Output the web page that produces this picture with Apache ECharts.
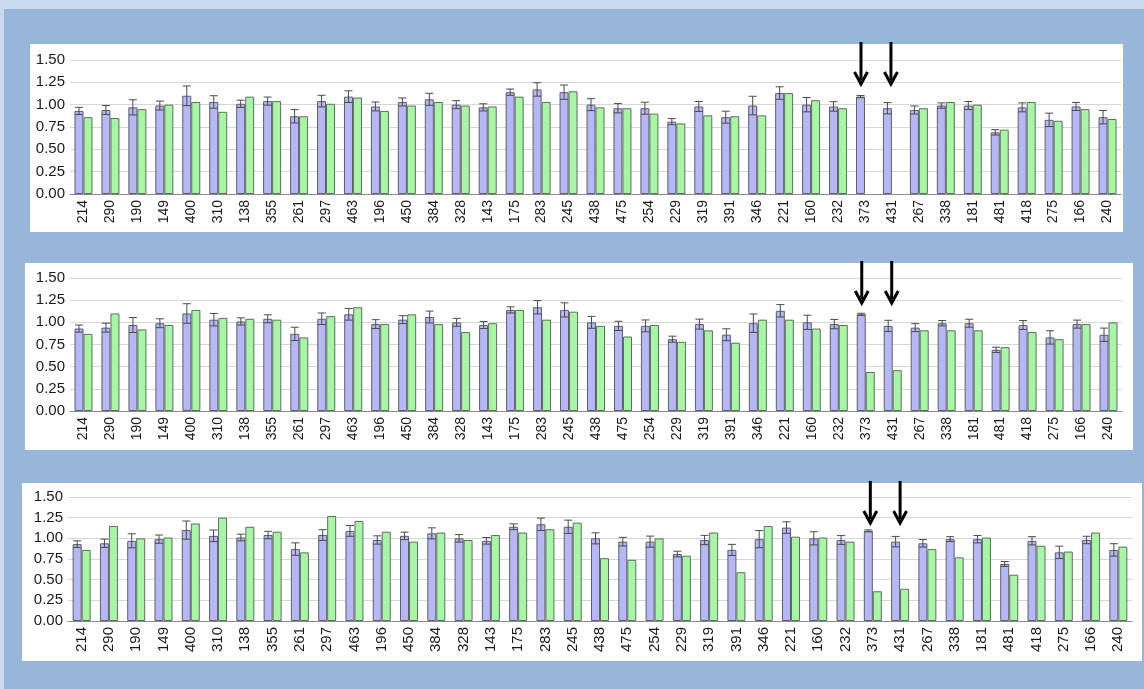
<!DOCTYPE html>
<html>
<head>
<meta charset="utf-8">
<script src="https://cdn.jsdelivr.net/npm/echarts@6/dist/echarts.min.js"></script>
<style>
  html, body { margin: 0; padding: 0; width: 1144px; height: 689px; overflow: hidden; }
  body { background: #98b6da; position: relative; font-family: "Liberation Sans", Arial, sans-serif; }
  .strip-top { position: absolute; left: 0; top: 0; width: 1144px; height: 9px; background: #c9d9ef; }
  .strip-left { position: absolute; left: 0; top: 0; width: 4px; height: 689px; background: #c9d9ef; }
  .panel { position: absolute; background: #ffffff; }
  #chart { position: absolute; left: 0; top: 0; width: 1144px; height: 689px; }
</style>
</head>
<body>
<div class="strip-top"></div>
<div class="strip-left"></div>
<div class="panel" style="left:30px;top:44px;width:1093px;height:188px;"></div>
<div class="panel" style="left:25px;top:263px;width:1108px;height:187px;"></div>
<div class="panel" style="left:22px;top:483px;width:1120px;height:178px;"></div>
<div id="chart"></div>
<script>
// ---- data ----
const categories = ['214','290','190','149','400','310','138','355','261','297','463','196','450','384','328','143','175','283','245','438','475','254','229','319','391','346','221','160','232','373','431','267','338','181','481','418','275','166','240'];

const blueValues = [0.93,0.94,0.97,0.99,1.10,1.03,1.01,1.04,0.87,1.04,1.09,0.98,1.03,
  1.06,1.00,0.97,1.14,1.17,1.14,1.00,0.96,0.96,0.81,0.98,0.86,0.99,1.13,
  1.00,0.98,1.09,0.96,0.94,0.99,0.99,0.69,0.97,0.83,0.98,0.86];

const blueErrors = [0.04,0.05,0.085,0.05,0.11,0.07,0.04,0.045,0.075,0.065,0.065,0.05,0.045,
  0.067,0.045,0.04,0.035,0.075,0.08,0.067,0.052,0.067,0.034,0.056,0.067,0.104,0.07,
  0.08,0.053,0.012,0.063,0.045,0.03,0.045,0.03,0.05,0.075,0.045,0.075];

const greenPanel1 = [0.86,0.85,0.95,1.00,1.03,0.92,1.09,1.04,0.87,1.01,1.08,0.93,0.99,
  1.03,0.99,0.98,1.09,1.03,1.15,0.97,0.96,0.90,0.79,0.88,0.87,0.88,1.13,
  1.05,0.96,null,null,0.96,1.03,1.00,0.72,1.03,0.82,0.95,0.84];

const greenPanel2 = [0.87,1.10,0.92,0.97,1.14,1.05,1.04,1.03,0.83,1.07,1.17,0.98,1.09,
  0.98,0.89,0.99,1.14,1.03,1.12,0.96,0.84,0.97,0.78,0.91,0.77,1.03,1.03,
  0.93,0.97,0.44,0.46,0.91,0.91,0.91,0.72,0.89,0.81,0.98,1.00];

const greenPanel3 = [0.86,1.15,1.00,1.01,1.18,1.25,1.14,1.08,0.83,1.27,1.21,1.08,0.96,
  1.07,0.98,1.04,1.07,1.11,1.19,0.76,0.74,1.00,0.79,1.07,0.59,1.15,1.02,
  1.01,0.96,0.36,0.39,0.87,0.77,1.01,0.56,0.91,0.84,1.07,0.90];

const yTicks = [0, 0.25, 0.5, 0.75, 1.0, 1.25, 1.5];
const arrowCategories = ['373', '431'];

// ---- layout (styles only) ----
const grids = [
  { left: 70, top: 60, width: 1051, height: 134, panelTop: 44, xFont: 14, yFont: 15, arrowShift: [-4, -1] },
  { left: 70, top: 278, width: 1052, height: 133, panelTop: 263, xFont: 14, yFont: 15, arrowShift: [-4, -1] },
  { left: 68, top: 497, width: 1064, height: 124, panelTop: 483, xFont: 15, yFont: 15, arrowShift: [-2.5, 0] }
];
const greens = [greenPanel1, greenPanel2, greenPanel3];
const BAR_W = 9;

const chart = echarts.init(document.getElementById('chart'), null, { renderer: 'canvas' });

const option = {
  backgroundColor: 'transparent',
  animation: false,
  grid: grids.map(g => ({ left: g.left, top: g.top, width: g.width, height: g.height, containLabel: false })),
  xAxis: grids.map((g, i) => ({
    type: 'category', gridIndex: i, data: categories,
    axisLine: { show: true, lineStyle: { color: '#8a8a8a', width: 1 } },
    axisTick: { show: false },
    axisLabel: { rotate: 90, fontSize: g.xFont, color: '#1a1a1a', margin: 6, interval: 0,
      fontFamily: '"Liberation Sans", Arial, sans-serif' }
  })),
  yAxis: grids.map((g, i) => ({
    type: 'value', gridIndex: i, min: 0, max: 1.5, interval: 0.25,
    axisLine: { show: false }, axisTick: { show: false },
    splitLine: { lineStyle: { color: '#d6d6d6', width: 1 } },
    axisLabel: { fontSize: g.yFont, color: '#1a1a1a', margin: 5,
      fontFamily: '"Liberation Sans", Arial, sans-serif',
      formatter: v => (yTicks.indexOf(v) >= 0 ? v.toFixed(2) : '') }
  })),
  series: []
};

grids.forEach((g, i) => {
  option.series.push({
    type: 'bar', xAxisIndex: i, yAxisIndex: i, data: blueValues,
    barWidth: BAR_W, barGap: '0%',
    itemStyle: { color: '#b5b8f2', borderColor: '#5e5e6e', borderWidth: 1 }
  });
  option.series.push({
    type: 'bar', xAxisIndex: i, yAxisIndex: i, data: greens[i],
    barWidth: BAR_W, barGap: '0%',
    itemStyle: { color: '#a9f5a7', borderColor: '#5e6e5e', borderWidth: 1 }
  });
  option.series.push({
    type: 'custom', xAxisIndex: i, yAxisIndex: i, z: 5,
    data: blueValues.map((v, k) => [k, v - blueErrors[k], v + blueErrors[k]]),
    renderItem: function (params, api) {
      const x = api.coord([api.value(0), 0])[0] - BAR_W / 2;
      const lo = api.coord([api.value(0), api.value(1)])[1];
      const hi = api.coord([api.value(0), api.value(2)])[1];
      const cw = 4;
      const style = { stroke: '#4a4a4a', lineWidth: 1 };
      return {
        type: 'group',
        children: [
          { type: 'line', shape: { x1: x, y1: lo, x2: x, y2: hi }, style },
          { type: 'line', shape: { x1: x - cw, y1: hi, x2: x + cw, y2: hi }, style },
          { type: 'line', shape: { x1: x - cw, y1: lo, x2: x + cw, y2: lo }, style }
        ]
      };
    }
  });
});

chart.setOption(option);

// arrows pointing at the blue bars of the flagged categories
const graphics = [];
grids.forEach((g, i) => {
  arrowCategories.forEach((cat, j) => {
    const px = chart.convertToPixel({ xAxisIndex: i }, cat) + g.arrowShift[j];
    const y0 = g.panelTop - 2;
    const tip = g.panelTop + 40;
    graphics.push({
      type: 'line', silent: true, z: 20,
      shape: { x1: px, y1: y0, x2: px, y2: tip - 4 },
      style: { stroke: '#000', lineWidth: 3 }
    });
    graphics.push({
      type: 'polyline', silent: true, z: 20,
      shape: { points: [[px - 6.5, tip - 12], [px, tip], [px + 6.5, tip - 12]] },
      style: { stroke: '#000', lineWidth: 3, fill: null, lineJoin: 'miter' }
    });
  });
});
chart.setOption({ graphic: graphics });
</script>
</body>
</html>
